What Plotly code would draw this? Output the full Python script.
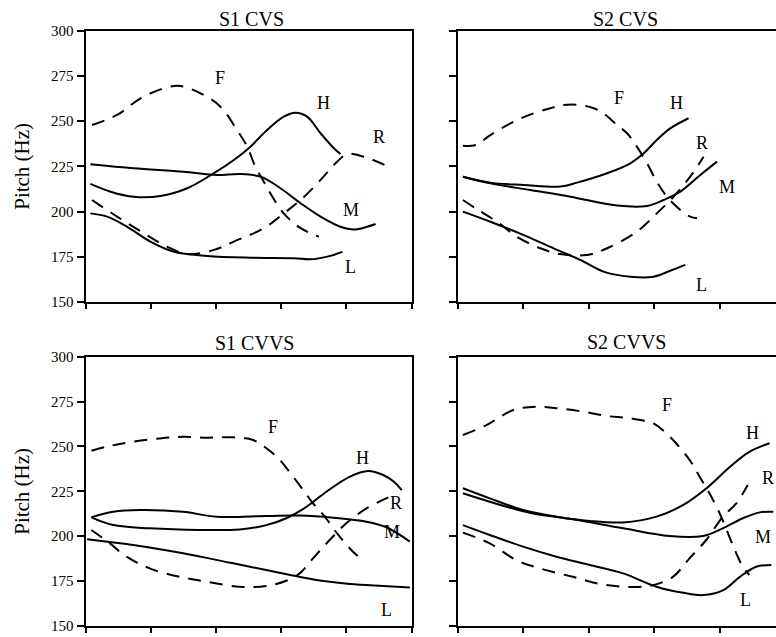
import plotly.graph_objects as go

FONT = "Liberation Serif, Times New Roman, serif"
W, H = 776, 637

panel_titles = ["S1 CVS", "S2 CVS", "S1 CVVS", "S2 CVVS"]
y_ticks = [150, 175, 200, 225, 250, 275, 300]
x_ticks = [0, 20, 40, 60, 80, 100]
y_label = "Pitch (Hz)"

# ---------------- S1 CVS ----------------
s1cvs_H_x = [1.5, 7.7, 14.8, 23, 31.2, 39.4, 45.5, 50.6, 55.7, 60.8, 64.4, 68, 72.1, 76.2, 78.2]
s1cvs_H_y = [215.3, 211, 208.2, 208.6, 212.9, 221.2, 228.5, 235.9, 245.1, 252.5, 254.7, 252.5, 243.3, 235, 231.8]
s1cvs_M_x = [1.5, 14.8, 30.1, 40.3, 47.4, 53.7, 59.8, 66, 72.1, 78.2, 82.3, 86.4, 89]
s1cvs_M_y = [226.1, 223.9, 222, 220.2, 220.8, 219.3, 212.9, 204.6, 197.2, 191.6, 190.1, 191.6, 193.1]
s1cvs_L_x = [1.5, 6.6, 12.8, 19.9, 27.1, 37.3, 50.6, 63.9, 69, 74.2, 78.8]
s1cvs_L_y = [199, 197.2, 191.6, 183.4, 177.8, 175.5, 174.5, 174.2, 173.6, 175.1, 177.7]
s1cvs_R_x = [2, 9.7, 17.9, 25, 31.2, 39.4, 45.5, 54.7, 60.8, 66, 72.1, 77.2, 80.3, 85.4, 93]
s1cvs_R_y = [206.4, 197.2, 188, 180.6, 176.5, 178.8, 183.4, 190.8, 199, 206.4, 217.5, 227.6, 231.8, 230.3, 224.8]
s1cvs_F_x = [2, 9.7, 16.9, 25, 29.1, 35.3, 41.4, 46.5, 49.6, 52.1, 54.7, 56.7, 60.8, 66, 71.6]
s1cvs_F_y = [247.9, 253.4, 262.6, 268.7, 269.4, 265.4, 258, 245, 235.9, 224.8, 216.5, 210.1, 199, 190.8, 186.1]

# ---------------- S2 CVS ----------------
s2cvs_H_x = [1.5, 9.9, 20.1, 31.3, 36.4, 45.6, 52.7, 56.8, 60.8, 64.9, 70.5]
s2cvs_H_y = [219.3, 216, 214.7, 213.8, 216, 221.2, 226.7, 232.2, 239.6, 246, 251.6]
s2cvs_M_x = [1.5, 9.9, 22.1, 34.4, 48.6, 57.8, 62.9, 68, 74.1, 79.2]
s2cvs_M_y = [219.3, 215.6, 211.9, 208.2, 203.3, 203.1, 206.4, 211, 220.2, 227.6]
s2cvs_L_x = [1.5, 9.9, 20.1, 30.3, 37.4, 44.5, 52.7, 59.8, 64.9, 69.5]
s2cvs_L_y = [200, 194.4, 187, 178.8, 173.3, 166.8, 164, 164, 167.3, 170.5]
s2cvs_R_x = [1.5, 5.8, 11.9, 18, 25.2, 31.3, 39.4, 45.6, 54.7, 60.8, 65.9, 71, 75.1]
s2cvs_R_y = [206.4, 201.3, 194.4, 186.1, 179.7, 176.5, 176, 179.7, 188.9, 199, 208.2, 219.3, 230.3]
s2cvs_F_x = [1.5, 5.4, 9.9, 17, 23.1, 28.2, 32.3, 37.4, 41.5, 44.5, 48.6, 51.7, 54.7, 57.8, 60.8, 63.9, 68, 71, 73.1]
s2cvs_F_y = [236.4, 236.8, 242.3, 249.7, 254.3, 257.1, 258.9, 258.9, 257.1, 254.3, 247.9, 243.3, 235.9, 226.7, 216.5, 208.2, 200.9, 197.2, 196.3]

# ---------------- S1 CVVS ----------------
s1cvvs_H_x = [1.8, 8.5, 19.7, 35, 47.3, 55.5, 61.6, 67.8, 73.9, 81, 86.7, 91.3, 94.5, 97]
s1cvvs_H_y = [210.5, 206.2, 204.4, 203.5, 203.8, 206.2, 210, 216.4, 224.8, 233.1, 236.3, 234.1, 230.5, 225.7]
s1cvvs_M_x = [1.8, 8.5, 16.7, 29.9, 40.2, 55.5, 65.7, 76, 86.2, 92.3, 99.5]
s1cvvs_M_y = [210.5, 213.6, 214.6, 213.6, 210.9, 211.3, 211.5, 210.3, 208.1, 205, 197]
s1cvvs_L_x = [0.5, 14.6, 29.9, 45.3, 60.6, 70.8, 81.1, 91.3, 99.5]
s1cvvs_L_y = [198.3, 195.1, 190.5, 184.9, 179.3, 175.6, 173.4, 172.3, 171.5]
s1cvvs_R_x = [1.8, 7.5, 12.6, 19.7, 28.9, 37.1, 47.3, 55.5, 61.6, 65.7, 69.8, 74.9, 80, 86.2, 94]
s1cvvs_R_y = [203.5, 196, 188.6, 182.1, 177.4, 174.7, 171.9, 172.3, 175.2, 179.3, 187.7, 197.9, 207.2, 215.5, 222.5]
s1cvvs_F_x = [1.8, 7.5, 14.6, 22.8, 29.9, 37.1, 45.3, 51.4, 55.5, 59.6, 63.7, 66.8, 69.8, 73.4, 77, 81, 84.7]
s1cvvs_F_y = [247.6, 250.3, 252.6, 254.5, 255.4, 254.9, 255.1, 253.6, 249, 242.5, 233.1, 225.7, 218.3, 210.9, 202, 193.3, 187]

# ---------------- S2 CVVS ----------------
s2cvvs_H_x = [1.5, 9.7, 19.9, 30.1, 40.3, 50.5, 60.7, 68.9, 76, 83.2, 89.2, 95.3]
s2cvvs_H_y = [226.7, 221.1, 214.6, 210.9, 208.5, 207.7, 210.9, 217.4, 226.7, 238.7, 247.1, 251.8]
s2cvvs_M_x = [1.5, 9.7, 21.9, 35.1, 50.5, 64.7, 74.9, 81, 87.1, 92.3, 96.4]
s2cvvs_M_y = [223.9, 219.2, 213.1, 209.4, 204.4, 200.1, 200.1, 204.4, 210, 213.3, 213.6]
s2cvvs_L_x = [1.5, 9.7, 19.9, 30.1, 40.3, 50.5, 60.7, 68.9, 75, 81.1, 86.2, 91.2, 95.8]
s2cvvs_L_y = [206.2, 200.7, 194.2, 188.6, 184, 179.3, 171.9, 168.5, 167.2, 170, 177.4, 183, 184]
s2cvvs_R_x = [1.5, 9.7, 17.8, 25, 35.1, 45.3, 58.5, 65.7, 70.8, 75.9, 81, 85.1, 88.6]
s2cvvs_R_y = [202, 196, 186.7, 182.1, 177.4, 172.8, 172.3, 177.4, 187.7, 197.9, 210.9, 218.3, 228.5]
s2cvvs_F_x = [1.5, 8.7, 16.9, 24, 30.1, 38.2, 45.4, 52.5, 59.6, 63.7, 66.7, 70.8, 73.9, 76.9, 80, 83, 85.1, 87.1, 89.1]
s2cvvs_F_y = [256.4, 261.9, 270.3, 272.1, 271.3, 269.4, 267, 265.7, 262.9, 257.3, 251.8, 242.5, 233.1, 223.9, 212.8, 199.7, 190.5, 183, 178.4]

# curve label anchor positions (x, y) per panel, order F, H, R, M, L
label_names = ["F", "H", "R", "M", "L"]
s1cvs_label_x = [41.4, 73.1, 90, 81.3, 81.3]
s1cvs_label_y = [273.8, 259.9, 241.4, 200.9, 169.5]
s2cvs_label_x = [49.1, 66.9, 74.6, 82.3, 74.6]
s2cvs_label_y = [262.6, 259.9, 237.8, 213.8, 159.4]
s1cvvs_label_x = [57.5, 85.1, 95.2, 94, 92.3]
s1cvvs_label_y = [261, 243.4, 218.3, 202.5, 158.9]
s2cvvs_label_x = [63.8, 90.2, 94.8, 93.3, 87.8]
s2cvvs_label_y = [273.1, 257.3, 232.2, 199.7, 164.4]

panels = [
    dict(curves=[(s1cvs_H_x, s1cvs_H_y, "solid"), (s1cvs_M_x, s1cvs_M_y, "solid"),
                 (s1cvs_L_x, s1cvs_L_y, "solid"), (s1cvs_R_x, s1cvs_R_y, "dash"),
                 (s1cvs_F_x, s1cvs_F_y, "dash")],
         lx=s1cvs_label_x, ly=s1cvs_label_y),
    dict(curves=[(s2cvs_H_x, s2cvs_H_y, "solid"), (s2cvs_M_x, s2cvs_M_y, "solid"),
                 (s2cvs_L_x, s2cvs_L_y, "solid"), (s2cvs_R_x, s2cvs_R_y, "dash"),
                 (s2cvs_F_x, s2cvs_F_y, "dash")],
         lx=s2cvs_label_x, ly=s2cvs_label_y),
    dict(curves=[(s1cvvs_H_x, s1cvvs_H_y, "solid"), (s1cvvs_M_x, s1cvvs_M_y, "solid"),
                 (s1cvvs_L_x, s1cvvs_L_y, "solid"), (s1cvvs_R_x, s1cvvs_R_y, "dash"),
                 (s1cvvs_F_x, s1cvvs_F_y, "dash")],
         lx=s1cvvs_label_x, ly=s1cvvs_label_y),
    dict(curves=[(s2cvvs_H_x, s2cvvs_H_y, "solid"), (s2cvvs_M_x, s2cvvs_M_y, "solid"),
                 (s2cvvs_L_x, s2cvvs_L_y, "solid"), (s2cvvs_R_x, s2cvvs_R_y, "dash"),
                 (s2cvvs_F_x, s2cvvs_F_y, "dash")],
         lx=s2cvvs_label_x, ly=s2cvvs_label_y),
]

# layout geometry (pixels in the 776x637 page)
left_dom = [85.5 / W, 411.5 / W]
right_dom = [458 / W, 1.0]
top_dom = [1 - 302 / H, 1 - 30.7 / H]
bot_dom = [1 - 626 / H, 1 - 356.7 / H]
right_xmax = (W - 458) / 3.27
xdoms = [left_dom, right_dom, left_dom, right_dom]
ydoms = [top_dom, top_dom, bot_dom, bot_dom]
xranges = [[0, 100], [0, right_xmax], [0, 100], [0, right_xmax]]
title_px = [(251, 19), (625.5, 18.5), (254, 343), (626, 341.5)]

fig = go.Figure()
for i, p in enumerate(panels):
    xa = "x" if i == 0 else f"x{i+1}"
    ya = "y" if i == 0 else f"y{i+1}"
    for cx, cy, dash in p["curves"]:
        fig.add_trace(go.Scatter(
            x=cx, y=cy, mode="lines", xaxis=xa, yaxis=ya, showlegend=False,
            line=dict(color="black", width=2, shape="spline", smoothing=1.0,
                      dash="13px,9px" if dash == "dash" else "solid"),
            hoverinfo="skip"))
    for name, lx, ly in zip(label_names, p["lx"], p["ly"]):
        fig.add_annotation(x=lx, y=ly, xref=xa, yref=ya, text=name, showarrow=False,
                           xanchor="center", yanchor="middle",
                           font=dict(family=FONT, size=18, color="black"))
    tx, ty = title_px[i]
    fig.add_annotation(x=tx / W, y=1 - ty / H, xref="paper", yref="paper",
                       text=panel_titles[i], showarrow=False,
                       xanchor="center", yanchor="middle",
                       font=dict(family=FONT, size=20, color="black"))

    has_labels = i in (0, 2)
    xkey = "xaxis" if i == 0 else f"xaxis{i+1}"
    ykey = "yaxis" if i == 0 else f"yaxis{i+1}"
    fig.layout[xkey] = dict(
        domain=xdoms[i], range=xranges[i], anchor=ya, showgrid=False, zeroline=False,
        showline=True, linecolor="black", linewidth=2, mirror=True,
        ticks="outside", ticklen=5, tickwidth=1.5, tickcolor="black",
        tickvals=x_ticks, showticklabels=False, fixedrange=True)
    fig.layout[ykey] = dict(
        domain=ydoms[i], range=[150, 300], anchor=xa, showgrid=False, zeroline=False,
        showline=True, linecolor="black", linewidth=2, mirror=has_labels,
        ticks="outside", ticklen=7, tickwidth=1.5, tickcolor="black",
        tickvals=y_ticks, showticklabels=has_labels,
        tickfont=dict(family=FONT, size=15, color="black"),
        title=dict(text=y_label if has_labels else "", standoff=16,
                   font=dict(family=FONT, size=21, color="black")),
        automargin=False, fixedrange=True)

fig.update_layout(
    width=W, height=H, margin=dict(l=0, r=0, t=0, b=0),
    paper_bgcolor="white", plot_bgcolor="white",
    font=dict(family=FONT, color="black"), showlegend=False)

fig.write_html("out.html", config={"displayModeBar": False})
